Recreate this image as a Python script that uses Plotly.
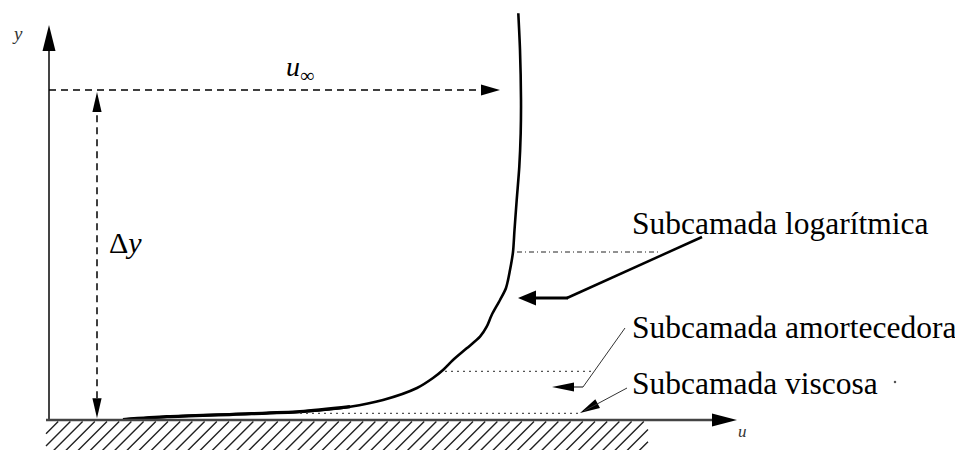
import numpy as np
import plotly.graph_objects as go

# ---- data (schematic coordinates: origin at wall / y-axis, 1 unit = 1 px) ----
profile_u = [74, 118, 184, 251, 301, 334, 368, 384, 394, 404, 417.7, 431, 437.7, 442.7,
             451, 457, 461, 464, 465.5, 467.7, 470.3, 471.7, 472, 471, 469.3]
profile_y = [0.5, 3.3, 5.7, 8.3, 13.3, 20, 32, 42, 50, 60, 71.7, 83.3, 93.3, 105,
             120, 132, 150, 168, 190, 220, 253.3, 287, 320, 370, 406.7]

layer_names = ["Subcamada logarítmica", "Subcamada amortecedora", "Subcamada viscosa"]
layer_levels = [168, 48.7, 6.7]          # y of the layer limit lines
layer_line_start = [468, 396, 251]        # u where each limit line starts (on the profile)
layer_line_end = [611, 543, 531]
label_y = [197, 93, 37]

u_inf_level = 330      # height of the u_inf dashed arrow
delta_y_x = 48         # x of the delta-y dimension arrow
delta_y_top = 328

# page body has an 8px margin -> compensate in size and ranges
W, H = 955, 442
X0 = -41
X1 = X0 + W
Y1 = 412
Y0 = Y1 - H

SERIF = "Liberation Serif, Times New Roman, serif"

fig = go.Figure()

# velocity profile
fig.add_trace(go.Scatter(x=profile_u, y=profile_y, mode="lines",
                         line=dict(color="black", width=2.6, shape="spline", smoothing=0.8),
                         hoverinfo="skip", showlegend=False))
# thicker near-wall part
fig.add_trace(go.Scatter(x=profile_u[:5], y=profile_y[:5], mode="lines",
                         line=dict(color="black", width=3.2, shape="spline", smoothing=0.8),
                         hoverinfo="skip", showlegend=False))

shapes = []


def seg(x0, y0, x1, y1, color="black", width=1.5, dash=None):
    d = dict(type="line", xref="x", yref="y", x0=x0, y0=y0, x1=x1, y1=y1,
             line=dict(color=color, width=width))
    if dash:
        d["line"]["dash"] = dash
    shapes.append(d)


def head(tip, frm, length, half, color="black"):
    tx, ty = tip
    fx, fy = frm
    dx, dy = tx - fx, ty - fy
    n = np.hypot(dx, dy)
    dx, dy = dx / n, dy / n
    bx, by = tx - dx * length, ty - dy * length
    px, py = -dy * half, dx * half
    path = f"M {tx},{ty} L {bx+px},{by+py} L {bx-px},{by-py} Z"
    shapes.append(dict(type="path", xref="x", yref="y", path=path,
                       fillcolor=color, line=dict(width=0)))
    return bx, by


AX = "#444444"
# y axis
seg(0, 0, 0, 372, color=AX, width=2)
head((0, 395), (0, 0), 26, 6.5, color="black")
# u axis / wall
seg(-3, 0, 666, 0, color=AX, width=2.5)
head((688, 0), (0, 0), 25, 6.5, color="black")

# hatching under the wall
xl, xr, yb, yt = -3, 599, -31, -1.5
h = yt - yb
parts = []
for x0 in np.arange(xl - h, xr + 1, 12.2):
    t_lo = max(0.0, (xl - x0) / h)
    t_hi = min(1.0, (xr - x0) / h)
    if t_lo < t_hi:
        parts.append(f"M {x0 + t_lo*h},{yb + t_lo*h} L {x0 + t_hi*h},{yb + t_hi*h}")
shapes.append(dict(type="path", xref="x", yref="y", path=" ".join(parts),
                   line=dict(color="#222222", width=1.4)))

# u_inf dashed arrow
bx, _ = head((451, u_inf_level), (0, u_inf_level), 19, 5.5)
seg(0, u_inf_level, bx, u_inf_level, width=1.5, dash="7px,5px")

# delta y dimension arrow
_, by_top = head((delta_y_x, delta_y_top), (delta_y_x, 0), 20, 4.6)
_, by_bot = head((delta_y_x, 1.7), (delta_y_x, delta_y_top), 20, 4.6)
seg(delta_y_x, by_bot, delta_y_x, by_top, width=1.5, dash="7px,5px")

# layer limit lines
seg(layer_line_start[0], layer_levels[0], layer_line_end[0], layer_levels[0],
    color="#222222", width=1, dash="5px,3px,1px,3px")
seg(layer_line_start[1], layer_levels[1], layer_line_end[1], layer_levels[1],
    color="#555555", width=1.2, dash="2px,4px")
seg(layer_line_start[2], layer_levels[2], layer_line_end[2], layer_levels[2],
    color="#555555", width=1.2, dash="2px,4px")

# leader for logarithmic layer (thick)
bx, _ = head((469, 122), (518, 122), 18, 7.5)
seg(653, 183, 518, 122, width=2.5)
seg(519, 122, bx, 122, width=3)

# leader for buffer layer
bx, _ = head((503, 33), (534, 33), 22, 4.5)
seg(576, 92, 534, 33, color="#333333", width=1)
seg(534, 33, bx, 33, color="#333333", width=1.2)

# leader for viscous layer
head((531, 7), (578, 32), 20, 5)
seg(578, 32, 535, 9, color="#333333", width=1)

annotations = []


def txt(x, y, s, size, xanchor="center", color="black"):
    annotations.append(dict(x=x, y=y, xref="x", yref="y", text=s, showarrow=False,
                            xanchor=xanchor, yanchor="middle",
                            font=dict(family=SERIF, size=size, color=color)))


txt(-32, 387, "<i>y</i>", 19, color="#333333")
txt(693, -11, "<i>u</i>", 17, color="#333333")
txt(251, 352, "<i>u</i><sub>∞</sub>", 28)
txt(76, 178, "Δ<i>y</i>", 30)
for name, ly in zip(layer_names, label_y):
    txt(581, ly, name, 31.5, xanchor="left")

# small stray dot near the viscous label
fig.add_trace(go.Scatter(x=[846], y=[38], mode="markers",
                         marker=dict(size=2.5, color="#555555"),
                         hoverinfo="skip", showlegend=False))

fig.update_layout(
    width=W, height=H, autosize=False,
    margin=dict(l=0, r=0, t=0, b=0),
    paper_bgcolor="white", plot_bgcolor="white",
    xaxis=dict(range=[X0, X1], visible=False, fixedrange=True),
    yaxis=dict(range=[Y0, Y1], visible=False, fixedrange=True),
    shapes=shapes, annotations=annotations, showlegend=False,
)

fig.write_html("out.html",
               post_script="document.documentElement.style.overflow='hidden';"
                           "document.body.style.overflow='hidden';")
